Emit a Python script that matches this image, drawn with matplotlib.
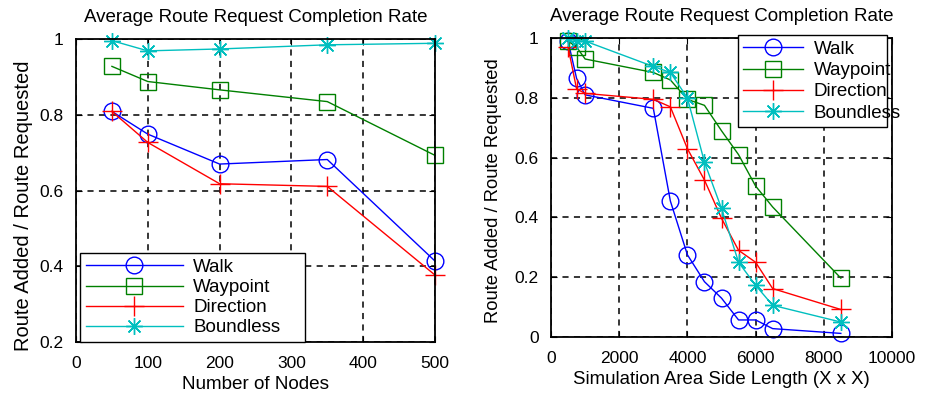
import matplotlib
matplotlib.use("Agg")
import matplotlib.pyplot as plt

plt.rcParams['font.family'] = ['Liberation Sans', 'DejaVu Sans']
plt.rcParams['font.size'] = 12.5

# Left panel: completion rate vs number of nodes
nodes = [50, 100, 200, 350, 500]
walk_nodes = [0.809, 0.749, 0.670, 0.682, 0.414]
waypoint_nodes = [0.928, 0.888, 0.866, 0.835, 0.693]
direction_nodes = [0.809, 0.727, 0.618, 0.611, 0.377]
boundless_nodes = [0.996, 0.969, 0.974, 0.985, 0.989]

# Right panel: completion rate vs simulation area side length
side = [500, 750, 1000, 3000, 3500, 4000, 4500, 5000, 5500, 6000, 6500, 8500]
walk_side = [0.99, 0.865, 0.81, 0.765, 0.455, 0.275, 0.185, 0.13, 0.057, 0.057, 0.028, 0.012]
waypoint_side = [0.99, 0.97, 0.93, 0.885, 0.86, 0.795, 0.775, 0.69, 0.61, 0.505, 0.435, 0.197]
direction_side = [0.97, 0.83, 0.815, 0.795, 0.77, 0.63, 0.525, 0.397, 0.29, 0.25, 0.162, 0.092]
boundless_side = [1.0, 0.99, 0.99, 0.905, 0.885, 0.80, 0.585, 0.43, 0.25, 0.173, 0.106, 0.05]

names = ["Walk", "Waypoint", "Direction", "Boundless"]
colors = ["#0000ff", "#008000", "#ff0000", "#00bfbf"]
markers = ["o", "s", "+", (8, 2, 0)]
msizes = [12, 12, 15, 12]

title = "Average Route Request Completion Rate"
ylab = "Route Added / Route Requested"

fig = plt.figure(figsize=(9.25, 3.98), dpi=100)
ax1 = fig.add_axes([0.0822, 0.1407, 0.388, 0.761])
ax2 = fig.add_axes([0.5957, 0.1533, 0.3686, 0.751])


def style(ax, ylab_size):
    ax.grid(True, color="black", linestyle=(0, (4, 3.5)), linewidth=1.1)
    ax.tick_params(direction="in", top=True, right=True, length=4, labelsize=12.5)
    ax.tick_params(axis="x", pad=10)
    ax.tick_params(axis="y", pad=9)
    for s in ax.spines.values():
        s.set_linewidth(1.3)
    ax.set_title(title, fontsize=13.5, pad=12)
    ax.set_ylabel(ylab, fontsize=ylab_size)


def draw(ax, xs, series):
    for ys, c, m, ms, n in zip(series, colors, markers, msizes, names):
        ax.plot(xs, ys, color=c, marker=m, markersize=ms, markerfacecolor="none",
                markeredgewidth=1.0, linewidth=1.0, label=n, clip_on=False)


draw(ax1, nodes, [walk_nodes, waypoint_nodes, direction_nodes, boundless_nodes])
ax1.set_xlim(0, 500)
ax1.set_ylim(0.2, 1.0)
ax1.set_xticks([0, 100, 200, 300, 400, 500])
ax1.set_yticks([0.2, 0.4, 0.6, 0.8, 1.0])
ax1.set_yticklabels(["0.2", "0.4", "0.6", "0.8", "1"])
ax1.set_xlabel("Number of Nodes", fontsize=13.6, labelpad=4)
style(ax1, 14.5)
ax1.yaxis.set_label_coords(-0.12, 0.45)
ax1.legend(loc="lower left", bbox_to_anchor=(0.011, 0.0, 0.627, 0.3), mode="expand",
           fontsize=13.5, handlelength=5.2, borderaxespad=0, fancybox=False,
           edgecolor="black", framealpha=1, labelspacing=0.16, borderpad=0.3,
           handletextpad=0.55)

draw(ax2, side, [walk_side, waypoint_side, direction_side, boundless_side])
ax2.set_xlim(0, 10000)
ax2.set_ylim(0, 1.0)
ax2.set_xticks([0, 2000, 4000, 6000, 8000, 10000])
ax2.set_yticks([0, 0.2, 0.4, 0.6, 0.8, 1.0])
ax2.set_yticklabels(["0", "0.2", "0.4", "0.6", "0.8", "1"])
ax2.set_xlabel("Simulation Area Side Length (X x X)", fontsize=13.4, labelpad=4)
style(ax2, 13.2)
ax2.yaxis.set_label_coords(-0.144, 0.49)
ax2.legend(loc="upper left", bbox_to_anchor=(0.548, 0.709, 0.437, 0.301), mode="expand",
           fontsize=13.5, handlelength=3.2, borderaxespad=0, fancybox=False,
           edgecolor="black", framealpha=1, labelspacing=0.22, borderpad=0.3,
           handletextpad=0.55)

fig.savefig("out.png", dpi=100)
